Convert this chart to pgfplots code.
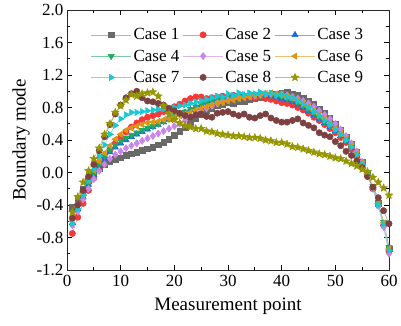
\documentclass[border=0pt]{standalone}
\usepackage{fontspec}
\setmainfont{Liberation Serif}
\usepackage{pgfplots}
\pgfplotsset{compat=1.18}
\usepackage{pgfplotstable}

\definecolor{c1}{RGB}{105,105,105}
\definecolor{c2}{RGB}{250,55,55}
\definecolor{c3}{RGB}{25,105,225}
\definecolor{c4}{RGB}{30,170,95}
\definecolor{c5}{RGB}{200,135,230}
\definecolor{c6}{RGB}{220,150,20}
\definecolor{c7}{RGB}{25,200,210}
\definecolor{c8}{RGB}{125,65,65}
\definecolor{c9}{RGB}{150,150,0}

\pgfdeclareplotmark{fstar}{%
 \pgfpathmoveto{\pgfpointpolar{90}{\pgfplotmarksize}}%
 \pgfpathlineto{\pgfpointpolar{126}{0.45\pgfplotmarksize}}%
 \pgfpathlineto{\pgfpointpolar{162}{\pgfplotmarksize}}%
 \pgfpathlineto{\pgfpointpolar{198}{0.45\pgfplotmarksize}}%
 \pgfpathlineto{\pgfpointpolar{234}{\pgfplotmarksize}}%
 \pgfpathlineto{\pgfpointpolar{270}{0.45\pgfplotmarksize}}%
 \pgfpathlineto{\pgfpointpolar{306}{\pgfplotmarksize}}%
 \pgfpathlineto{\pgfpointpolar{342}{0.45\pgfplotmarksize}}%
 \pgfpathlineto{\pgfpointpolar{18}{\pgfplotmarksize}}%
 \pgfpathlineto{\pgfpointpolar{54}{0.45\pgfplotmarksize}}%
 \pgfpathclose
 \pgfusepathqfillstroke}

\pgfplotstableread{
x c1 c2 c3 c4 c5 c6 c7 c8 c9
1 -0.43 -0.75 -0.62 -0.58 -0.65 -0.60 -0.63 -0.56 -0.49
2 -0.32 -0.55 -0.45 -0.42 -0.48 -0.42 -0.45 -0.40 -0.30
3 -0.20 -0.38 -0.30 -0.27 -0.33 -0.26 -0.28 -0.22 -0.12
4 -0.10 -0.22 -0.15 -0.13 -0.20 -0.10 -0.10 -0.05 0.02
5 -0.02 -0.07 -0.03 -0.01 -0.08 0.03 0.05 0.10 0.17
6 0.05 0.06 0.08 0.10 0.02 0.14 0.20 0.27 0.30
7 0.10 0.18 0.17 0.20 0.10 0.24 0.34 0.44 0.47
8 0.13 0.28 0.25 0.28 0.17 0.33 0.47 0.59 0.60
9 0.16 0.36 0.31 0.34 0.22 0.41 0.58 0.72 0.74
10 0.18 0.43 0.36 0.39 0.26 0.47 0.66 0.83 0.82
11 0.21 0.50 0.40 0.43 0.30 0.52 0.71 0.92 0.89
12 0.23 0.56 0.44 0.46 0.33 0.55 0.74 0.97 0.96
13 0.25 0.61 0.47 0.49 0.36 0.57 0.74 1.00 0.94
14 0.27 0.65 0.50 0.52 0.39 0.59 0.75 0.92 0.97
15 0.29 0.68 0.53 0.55 0.42 0.61 0.76 0.88 0.98
16 0.31 0.70 0.56 0.57 0.45 0.62 0.77 0.87 0.99
17 0.34 0.72 0.59 0.60 0.48 0.63 0.78 0.85 0.94
18 0.37 0.75 0.62 0.63 0.51 0.65 0.78 0.83 0.82
19 0.41 0.78 0.65 0.66 0.54 0.66 0.79 0.79 0.72
20 0.46 0.81 0.68 0.69 0.57 0.68 0.80 0.76 0.65
21 0.51 0.84 0.71 0.72 0.60 0.70 0.82 0.73 0.61
22 0.56 0.88 0.74 0.75 0.64 0.72 0.83 0.70 0.58
23 0.62 0.91 0.77 0.78 0.68 0.74 0.85 0.68 0.56
24 0.67 0.93 0.80 0.81 0.72 0.77 0.87 0.71 0.54
25 0.72 0.93 0.83 0.84 0.76 0.79 0.88 0.72 0.54
26 0.76 0.91 0.86 0.86 0.79 0.81 0.90 0.69 0.51
27 0.79 0.92 0.88 0.88 0.82 0.83 0.92 0.68 0.50
28 0.82 0.93 0.90 0.90 0.85 0.85 0.94 0.73 0.48
29 0.84 0.94 0.92 0.91 0.87 0.86 0.93 0.74 0.47
30 0.86 0.93 0.93 0.92 0.89 0.88 0.97 0.75 0.46
31 0.85 0.95 0.94 0.93 0.91 0.89 0.95 0.72 0.45
32 0.87 0.94 0.95 0.94 0.92 0.91 0.98 0.70 0.45
33 0.88 0.93 0.95 0.94 0.93 0.92 0.96 0.72 0.44
34 0.90 0.94 0.96 0.95 0.94 0.93 0.98 0.68 0.43
35 0.91 0.92 0.95 0.96 0.95 0.95 0.97 0.67 0.43
36 0.92 0.93 0.96 0.95 0.96 0.96 0.99 0.70 0.42
37 0.94 0.91 0.95 0.96 0.97 0.97 0.97 0.72 0.40
38 0.95 0.90 0.94 0.95 0.97 0.98 0.98 0.67 0.39
39 0.96 0.88 0.93 0.94 0.96 0.97 0.95 0.64 0.37
40 0.98 0.86 0.91 0.93 0.96 0.96 0.96 0.62 0.37
41 0.99 0.85 0.89 0.91 0.95 0.94 0.93 0.62 0.35
42 0.97 0.83 0.87 0.89 0.93 0.92 0.92 0.64 0.32
43 0.95 0.80 0.84 0.86 0.91 0.89 0.88 0.66 0.31
44 0.92 0.77 0.80 0.82 0.88 0.85 0.84 0.61 0.29
45 0.88 0.73 0.76 0.78 0.85 0.81 0.80 0.58 0.27
46 0.84 0.68 0.71 0.73 0.81 0.76 0.75 0.55 0.25
47 0.78 0.64 0.66 0.68 0.76 0.71 0.70 0.49 0.23
48 0.73 0.59 0.61 0.63 0.71 0.66 0.64 0.46 0.22
49 0.67 0.54 0.56 0.58 0.66 0.60 0.59 0.44 0.20
50 0.60 0.49 0.51 0.53 0.60 0.54 0.53 0.38 0.18
51 0.52 0.43 0.45 0.47 0.53 0.48 0.47 0.33 0.17
52 0.44 0.37 0.38 0.40 0.45 0.41 0.40 0.26 0.14
53 0.35 0.29 0.30 0.32 0.36 0.33 0.31 0.21 0.11
54 0.25 0.20 0.21 0.23 0.26 0.23 0.22 0.14 0.08
55 0.13 0.09 0.10 0.12 0.13 0.12 0.10 0.06 0.04
56 -0.01 -0.04 -0.03 -0.01 -0.02 -0.01 -0.03 -0.05 0.01
57 -0.18 -0.20 -0.19 -0.17 -0.20 -0.18 -0.19 -0.18 -0.06
58 -0.38 -0.40 -0.39 -0.37 -0.41 -0.38 -0.40 -0.31 -0.12
59 -0.62 -0.65 -0.63 -0.61 -0.67 -0.62 -0.64 -0.47 -0.19
60 -0.94 -0.97 -0.93 -0.92 -1.00 -0.94 -0.96 -0.63 -0.28
}\datatable

\begin{document}
\begin{tikzpicture}
\begin{axis}[
  name=ax, at={(0,0)}, anchor=south west,
  scale only axis, width=322pt, height=260pt,
  xmin=0, xmax=60, ymin=-1.2, ymax=2.0,
  xtick={0,10,20,30,40,50,60},
  ytick={-1.2,-0.8,-0.4,0,0.4,0.8,1.2,1.6,2.0},
  minor x tick num=1, minor y tick num=1,
  tick align=inside, major tick length=5pt, minor tick length=3pt,
  every tick/.style={black, line width=0.8pt},
  axis line style={line width=1pt, black!85},
  yticklabel style={/pgf/number format/.cd, fixed, fixed zerofill, precision=1},
  /pgf/number format/assume math mode=true,
  ticklabel style={font=\fontsize{17}{20}\selectfont},
  xticklabel style={yshift=-2pt},
  label style={font=\fontsize{19}{22}\selectfont},
  xlabel style={yshift=-4pt},
  xlabel={Measurement point}, ylabel={Boundary mode},
  legend columns=3,
  legend style={draw=none, fill=none, at={(0.5,0.945)}, anchor=north,
    font=\fontsize{17}{19}\selectfont, row sep=4.5pt,
    /tikz/every even column/.append style={column sep=1.5pt}},
  legend cell align=left,
  legend image code/.code={\draw[mark repeat=2,mark phase=2,#1] plot coordinates {(0pt,0pt) (20pt,0pt) (40pt,0pt)};},
  every axis plot/.append style={line width=0.6pt},
]
\addplot[color=c1!50!white, mark=square*, mark size=2.8pt, mark options={fill=c1, draw=c1, solid}] table[x=x,y=c1] {\datatable};
\addlegendentry{Case 1}
\addplot[color=c2!55!white, mark=*, mark size=3.1pt, mark options={fill=c2, draw=c2, solid}] table[x=x,y=c2] {\datatable};
\addlegendentry{Case 2}
\addplot[color=c3!55!white, mark=triangle*, mark size=3.5pt, mark options={fill=c3, draw=c3, solid}] table[x=x,y=c3] {\datatable};
\addlegendentry{Case 3}
\addplot[color=c4!60!white, mark=triangle*, mark size=3.5pt, mark options={fill=c4, draw=c4, solid, rotate=180}] table[x=x,y=c4] {\datatable};
\addlegendentry{Case 4}
\addplot[color=c5!60!white, mark=diamond*, mark size=3.5pt, mark options={fill=c5, draw=c5, solid}] table[x=x,y=c5] {\datatable};
\addlegendentry{Case 5}
\addplot[color=c6!60!white, mark=triangle*, mark size=3.5pt, mark options={fill=c6, draw=c6, solid, rotate=90}] table[x=x,y=c6] {\datatable};
\addlegendentry{Case 6}
\addplot[color=c7!60!white, mark=triangle*, mark size=3.5pt, mark options={fill=c7, draw=c7, solid, rotate=-90}] table[x=x,y=c7] {\datatable};
\addlegendentry{Case 7}
\addplot[color=c8!55!white, mark=*, mark size=3.1pt, mark options={fill=c8, draw=c8, solid}] table[x=x,y=c8] {\datatable};
\addlegendentry{Case 8}
\addplot[color=c9!60!white, mark=fstar, mark size=3.9pt, mark options={fill=c9, draw=c9, solid}] table[x=x,y=c9] {\datatable};
\addlegendentry{Case 9}
\end{axis}
\pgfresetboundingbox
\useasboundingbox ([xshift=-67pt,yshift=-55pt]ax.south west) rectangle ([xshift=12pt,yshift=10pt]ax.north east);
\end{tikzpicture}
\end{document}
